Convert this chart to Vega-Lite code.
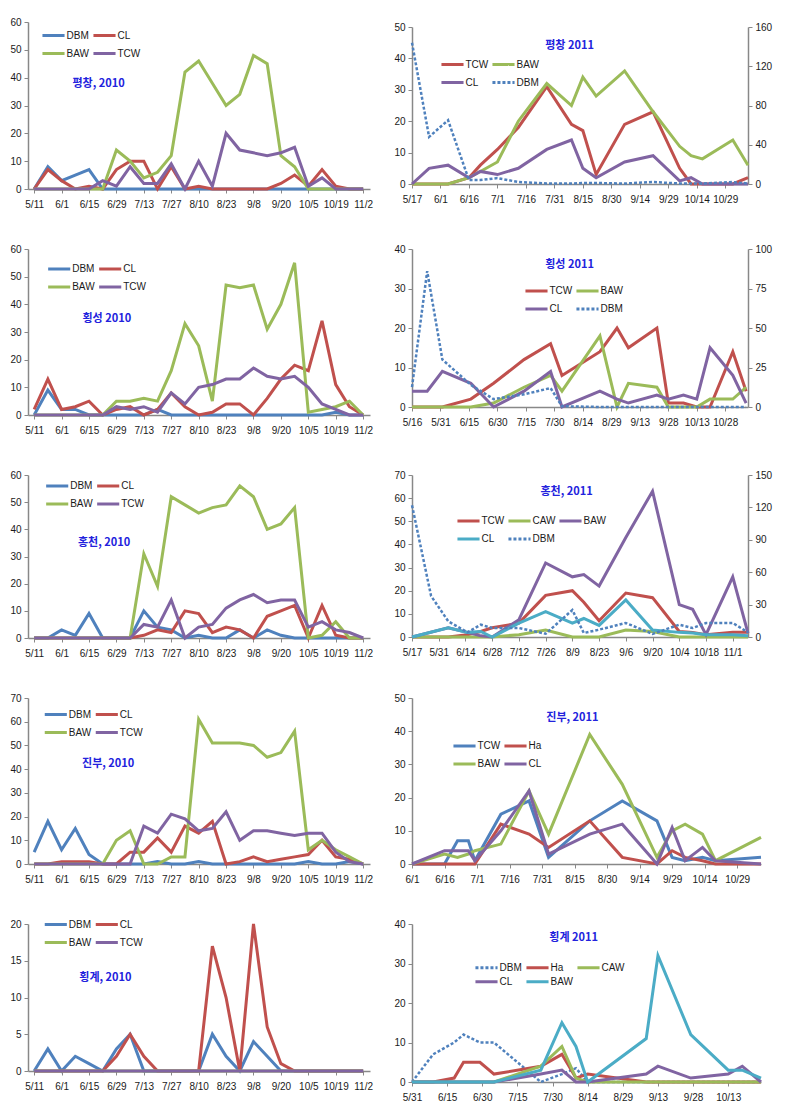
{
 "$schema": "https://vega.github.io/schema/vega-lite/v6.json",
 "padding": {"left": 9, "top": 17, "right": 5, "bottom": 5},
 "background": "white",
 "columns": 2,
 "spacing": {"row": 60, "column": 42},
 "bounds": "flush",
 "center": {"row": true},
 "resolve": {"scale": {"x": "independent", "y": "independent", "color": "independent"}, "legend": {"color": "independent"}},
 "datasets": {
  "L1": [
   {"i":0,"DBM":0,"CL":0,"BAW":0,"TCW":0},{"i":1,"DBM":8,"CL":7,"BAW":0,"TCW":0},{"i":2,"DBM":3,"CL":3,"BAW":0,"TCW":0},{"i":3,"DBM":5,"CL":0,"BAW":0,"TCW":0},{"i":4,"DBM":7,"CL":1,"BAW":0,"TCW":0},{"i":5,"DBM":0,"CL":0,"BAW":0,"TCW":3},{"i":6,"DBM":0,"CL":7,"BAW":14,"TCW":1},{"i":7,"DBM":0,"CL":10,"BAW":10,"TCW":8},{"i":8,"DBM":0,"CL":10,"BAW":4,"TCW":2},{"i":9,"DBM":0,"CL":0,"BAW":6,"TCW":2},{"i":10,"DBM":0,"CL":8,"BAW":12,"TCW":9},{"i":11,"DBM":0,"CL":0,"BAW":42,"TCW":0},{"i":12,"DBM":0,"CL":1,"BAW":46,"TCW":10},{"i":13,"DBM":0,"CL":0,"BAW":38,"TCW":1},{"i":14,"DBM":0,"CL":0,"BAW":30,"TCW":20},{"i":15,"DBM":0,"CL":0,"BAW":34,"TCW":14},{"i":16,"DBM":0,"CL":0,"BAW":48,"TCW":13},{"i":17,"DBM":0,"CL":0,"BAW":45,"TCW":12},{"i":18,"DBM":0,"CL":2,"BAW":12,"TCW":13},{"i":19,"DBM":0,"CL":5,"BAW":8,"TCW":15},{"i":20,"DBM":0,"CL":1,"BAW":0,"TCW":1},{"i":21,"DBM":0,"CL":7,"BAW":0,"TCW":4},{"i":22,"DBM":0,"CL":1,"BAW":0,"TCW":0},{"i":23,"DBM":0,"CL":0,"BAW":0,"TCW":0},{"i":24,"DBM":0,"CL":0,"BAW":0,"TCW":0}
  ],
  "L2": [
   {"i":0,"DBM":0,"CL":2,"BAW":0,"TCW":0},{"i":1,"DBM":9,"CL":13,"BAW":0,"TCW":0},{"i":2,"DBM":2,"CL":2,"BAW":0,"TCW":0},{"i":3,"DBM":2,"CL":3,"BAW":0,"TCW":0},{"i":4,"DBM":0,"CL":5,"BAW":0,"TCW":0},{"i":5,"DBM":0,"CL":0,"BAW":0,"TCW":0},{"i":6,"DBM":0,"CL":2,"BAW":5,"TCW":3},{"i":7,"DBM":0,"CL":3,"BAW":5,"TCW":2},{"i":8,"DBM":0,"CL":0,"BAW":6,"TCW":3},{"i":9,"DBM":2,"CL":2,"BAW":5,"TCW":1},{"i":10,"DBM":0,"CL":8,"BAW":16,"TCW":8},{"i":11,"DBM":0,"CL":3,"BAW":33,"TCW":4},{"i":12,"DBM":0,"CL":0,"BAW":25,"TCW":10},{"i":13,"DBM":0,"CL":1,"BAW":5,"TCW":11},{"i":14,"DBM":0,"CL":4,"BAW":47,"TCW":13},{"i":15,"DBM":0,"CL":4,"BAW":46,"TCW":13},{"i":16,"DBM":0,"CL":0,"BAW":47,"TCW":17},{"i":17,"DBM":0,"CL":6,"BAW":31,"TCW":14},{"i":18,"DBM":0,"CL":13,"BAW":40,"TCW":13},{"i":19,"DBM":0,"CL":18,"BAW":55,"TCW":14},{"i":20,"DBM":0,"CL":16,"BAW":1,"TCW":10},{"i":21,"DBM":0,"CL":34,"BAW":2,"TCW":4},{"i":22,"DBM":1,"CL":11,"BAW":3,"TCW":2},{"i":23,"DBM":0,"CL":3,"BAW":5,"TCW":0},{"i":24,"DBM":0,"CL":0,"BAW":0,"TCW":0}
  ],
  "L3": [
   {"i":0,"DBM":0,"CL":0,"BAW":0,"TCW":0},{"i":1,"DBM":0,"CL":0,"BAW":0,"TCW":0},{"i":2,"DBM":3,"CL":0,"BAW":0,"TCW":0},{"i":3,"DBM":1,"CL":0,"BAW":0,"TCW":0},{"i":4,"DBM":9,"CL":0,"BAW":0,"TCW":0},{"i":5,"DBM":0,"CL":0,"BAW":0,"TCW":0},{"i":6,"DBM":0,"CL":0,"BAW":0,"TCW":0},{"i":7,"DBM":0,"CL":0,"BAW":0,"TCW":0},{"i":8,"DBM":10,"CL":1,"BAW":31,"TCW":5},{"i":9,"DBM":4,"CL":3,"BAW":19,"TCW":4},{"i":10,"DBM":3,"CL":2,"BAW":52,"TCW":14},{"i":11,"DBM":0,"CL":10,"BAW":49,"TCW":0},{"i":12,"DBM":1,"CL":9,"BAW":46,"TCW":4},{"i":13,"DBM":0,"CL":2,"BAW":48,"TCW":5},{"i":14,"DBM":0,"CL":4,"BAW":49,"TCW":11},{"i":15,"DBM":3,"CL":3,"BAW":56,"TCW":14},{"i":16,"DBM":0,"CL":0,"BAW":52,"TCW":16},{"i":17,"DBM":3,"CL":8,"BAW":40,"TCW":13},{"i":18,"DBM":1,"CL":10,"BAW":42,"TCW":14},{"i":19,"DBM":0,"CL":12,"BAW":48,"TCW":14},{"i":20,"DBM":0,"CL":0,"BAW":0,"TCW":4},{"i":21,"DBM":0,"CL":12,"BAW":1,"TCW":6},{"i":22,"DBM":0,"CL":1,"BAW":6,"TCW":3},{"i":23,"DBM":0,"CL":0,"BAW":0,"TCW":2},{"i":24,"DBM":0,"CL":0,"BAW":0,"TCW":0}
  ],
  "L4": [
   {"i":0,"DBM":5,"CL":0,"BAW":0,"TCW":0},{"i":1,"DBM":18,"CL":0,"BAW":0,"TCW":0},{"i":2,"DBM":6,"CL":1,"BAW":0,"TCW":0},{"i":3,"DBM":15,"CL":1,"BAW":0,"TCW":0},{"i":4,"DBM":4,"CL":1,"BAW":0,"TCW":0},{"i":5,"DBM":0,"CL":0,"BAW":0,"TCW":0},{"i":6,"DBM":0,"CL":0,"BAW":10,"TCW":0},{"i":7,"DBM":0,"CL":5,"BAW":14,"TCW":0},{"i":8,"DBM":0,"CL":5,"BAW":0,"TCW":16},{"i":9,"DBM":1,"CL":11,"BAW":0,"TCW":13},{"i":10,"DBM":0,"CL":5,"BAW":3,"TCW":21},{"i":11,"DBM":0,"CL":16,"BAW":3,"TCW":19},{"i":12,"DBM":1,"CL":13,"BAW":61,"TCW":14},{"i":13,"DBM":0,"CL":18,"BAW":51,"TCW":15},{"i":14,"DBM":0,"CL":0,"BAW":51,"TCW":22},{"i":15,"DBM":0,"CL":1,"BAW":51,"TCW":10},{"i":16,"DBM":0,"CL":3,"BAW":50,"TCW":14},{"i":17,"DBM":0,"CL":1,"BAW":45,"TCW":14},{"i":18,"DBM":0,"CL":2,"BAW":47,"TCW":13},{"i":19,"DBM":0,"CL":3,"BAW":56,"TCW":12},{"i":20,"DBM":1,"CL":4,"BAW":6,"TCW":13},{"i":21,"DBM":0,"CL":10,"BAW":10,"TCW":13},{"i":22,"DBM":0,"CL":3,"BAW":6,"TCW":5},{"i":23,"DBM":1,"CL":2,"BAW":3,"TCW":1},{"i":24,"DBM":0,"CL":0,"BAW":0,"TCW":0}
  ],
  "L5": [
   {"i":0,"DBM":0,"CL":0,"BAW":0,"TCW":0},{"i":1,"DBM":3,"CL":0,"BAW":0,"TCW":0},{"i":2,"DBM":0,"CL":0,"BAW":0,"TCW":0},{"i":3,"DBM":2,"CL":0,"BAW":0,"TCW":0},{"i":4,"DBM":1,"CL":0,"BAW":0,"TCW":0},{"i":5,"DBM":0,"CL":0,"BAW":0,"TCW":0},{"i":6,"DBM":3,"CL":2,"BAW":0,"TCW":0},{"i":7,"DBM":5,"CL":5,"BAW":0,"TCW":0},{"i":8,"DBM":0,"CL":2,"BAW":0,"TCW":0},{"i":9,"DBM":0,"CL":0,"BAW":0,"TCW":0},{"i":10,"DBM":0,"CL":0,"BAW":0,"TCW":0},{"i":11,"DBM":0,"CL":0,"BAW":0,"TCW":0},{"i":12,"DBM":0,"CL":0,"BAW":0,"TCW":0},{"i":13,"DBM":5,"CL":17,"BAW":0,"TCW":0},{"i":14,"DBM":2,"CL":10,"BAW":0,"TCW":0},{"i":15,"DBM":0,"CL":0,"BAW":0,"TCW":0},{"i":16,"DBM":4,"CL":20,"BAW":0,"TCW":0},{"i":17,"DBM":2,"CL":6,"BAW":0,"TCW":0},{"i":18,"DBM":0,"CL":1,"BAW":0,"TCW":0},{"i":19,"DBM":0,"CL":0,"BAW":0,"TCW":0},{"i":20,"DBM":0,"CL":0,"BAW":0,"TCW":0},{"i":21,"DBM":0,"CL":0,"BAW":0,"TCW":0},{"i":22,"DBM":0,"CL":0,"BAW":0,"TCW":0},{"i":23,"DBM":0,"CL":0,"BAW":0,"TCW":0},{"i":24,"DBM":0,"CL":0,"BAW":0,"TCW":0}
  ],
  "R1": [
   {"d":"2011/05/17","TCW":0,"BAW":0,"CL":0,"DBM":144},{"d":"2011/05/26","TCW":0,"BAW":0,"CL":5,"DBM":48},{"d":"2011/06/05","TCW":0,"BAW":0,"CL":6,"DBM":65},{"d":"2011/06/16","TCW":2,"BAW":2,"CL":2,"DBM":4},{"d":"2011/06/22","TCW":6,"BAW":4,"CL":4,"DBM":4},{"d":"2011/07/01","TCW":11,"BAW":7,"CL":3,"DBM":6},{"d":"2011/07/12","TCW":18,"BAW":20,"CL":5,"DBM":2},{"d":"2011/07/27","TCW":31,"BAW":32,"CL":11,"DBM":0.5},{"d":"2011/08/09","TCW":19,"BAW":25,"CL":14,"DBM":0.5},{"d":"2011/08/15","TCW":17,"BAW":34,"CL":5,"DBM":1},{"d":"2011/08/22","TCW":3,"BAW":28,"CL":2,"DBM":1},{"d":"2011/09/06","TCW":19,"BAW":36,"CL":7,"DBM":0.5},{"d":"2011/09/21","TCW":23,"BAW":23,"CL":9,"DBM":2},{"d":"2011/10/05","TCW":5,"BAW":12,"CL":1,"DBM":0.5},{"d":"2011/10/11","TCW":0,"BAW":9,"CL":2,"DBM":0.5},{"d":"2011/10/17","TCW":0,"BAW":8,"CL":0,"DBM":0.5},{"d":"2011/11/02","TCW":0,"BAW":14,"CL":0,"DBM":2},{"d":"2011/11/10","TCW":2,"BAW":6,"CL":0,"DBM":0.5}
  ],
  "R2": [
   {"d":"2011/05/16","TCW":0,"BAW":0,"CL":4,"DBM":12.6},{"d":"2011/05/24","TCW":0,"BAW":0,"CL":4,"DBM":86},{"d":"2011/06/01","TCW":0,"BAW":0,"CL":9,"DBM":30},{"d":"2011/06/16","TCW":2,"BAW":0,"CL":6,"DBM":14},{"d":"2011/06/28","TCW":6,"BAW":1,"CL":0,"DBM":5},{"d":"2011/07/14","TCW":12,"BAW":5,"CL":4,"DBM":8},{"d":"2011/07/28","TCW":16,"BAW":8,"CL":9,"DBM":12},{"d":"2011/08/03","TCW":8,"BAW":4,"CL":0,"DBM":0.5},{"d":"2011/08/23","TCW":14,"BAW":18,"CL":4,"DBM":0},{"d":"2011/09/01","TCW":20,"BAW":0,"CL":2,"DBM":0},{"d":"2011/09/07","TCW":15,"BAW":6,"CL":1,"DBM":0},{"d":"2011/09/22","TCW":20,"BAW":5,"CL":3,"DBM":0},{"d":"2011/09/28","TCW":1,"BAW":0,"CL":2,"DBM":0},{"d":"2011/10/06","TCW":1,"BAW":0,"CL":3,"DBM":0},{"d":"2011/10/13","TCW":0,"BAW":0,"CL":2,"DBM":0},{"d":"2011/10/20","TCW":0,"BAW":2,"CL":15,"DBM":0},{"d":"2011/11/01","TCW":14,"BAW":2,"CL":8,"DBM":0},{"d":"2011/11/08","TCW":4,"BAW":5,"CL":1,"DBM":0}
  ],
  "R3": [
   {"d":"2011/05/17","TCW":0,"CAW":0,"BAW":0,"CL":0,"DBM":122},{"d":"2011/05/27","DBM":38},{"d":"2011/06/05","TCW":0,"CAW":0,"BAW":4,"CL":4,"DBM":14.5},{"d":"2011/06/15","TCW":1,"CAW":0,"BAW":2,"CL":2,"DBM":4.3},{"d":"2011/06/22","TCW":2.4,"CAW":0,"BAW":0.5,"CL":2.4,"DBM":11.4},{"d":"2011/06/28","TCW":4,"CAW":0,"BAW":0,"CL":0,"DBM":8.3},{"d":"2011/07/12","TCW":6,"CAW":1,"BAW":7.5,"CL":6,"DBM":8.3},{"d":"2011/07/26","TCW":18,"CAW":3,"BAW":32,"CL":11,"DBM":3},{"d":"2011/08/09","TCW":20,"CAW":0,"BAW":26,"CL":6,"DBM":25},{"d":"2011/08/15","TCW":15,"CAW":0,"BAW":27,"CL":8,"DBM":3.7},{"d":"2011/08/23","TCW":7,"CAW":0,"BAW":22,"CL":5,"DBM":6.8},{"d":"2011/09/06","TCW":19,"CAW":3,"BAW":43,"CL":16,"DBM":13},{"d":"2011/09/20","TCW":17,"CAW":2.4,"BAW":63,"CL":3,"DBM":2.8},{"d":"2011/10/04","TCW":2.4,"CAW":0,"BAW":14,"CL":2,"DBM":11.4},{"d":"2011/10/11","TCW":2,"CAW":0,"BAW":12,"CL":1.7,"DBM":8.3},{"d":"2011/10/18","TCW":1,"CAW":0,"BAW":1,"CL":1,"DBM":13},{"d":"2011/11/01","TCW":2,"CAW":0,"BAW":26,"CL":1,"DBM":13},{"d":"2011/11/09","TCW":2,"CAW":0,"BAW":1.7,"CL":0.5,"DBM":4.3}
  ],
  "R4": [
   {"d":"2011/06/01","TCW":0,"Ha":0,"BAW":0,"CL":0},{"d":"2011/06/16","TCW":0,"Ha":0,"BAW":3,"CL":4},{"d":"2011/06/22","TCW":7,"Ha":0,"BAW":2,"CL":4},{"d":"2011/06/27","TCW":7,"Ha":0,"BAW":3,"CL":4},{"d":"2011/06/30","TCW":1,"Ha":0,"BAW":4,"CL":1},{"d":"2011/07/12","TCW":15,"Ha":12,"BAW":6,"CL":10},{"d":"2011/07/25","TCW":19,"Ha":9,"BAW":22,"CL":22},{"d":"2011/08/03","TCW":2,"Ha":5,"BAW":9,"CL":3},{"d":"2011/08/22","TCW":13,"Ha":13,"BAW":39,"CL":9},{"d":"2011/09/06","TCW":19,"Ha":2,"BAW":24,"CL":12},{"d":"2011/09/22","TCW":13,"Ha":0,"BAW":2,"CL":0},{"d":"2011/09/29","TCW":2,"Ha":4,"BAW":10,"CL":11},{"d":"2011/10/05","TCW":1,"Ha":2,"BAW":12,"CL":1},{"d":"2011/10/13","TCW":2,"Ha":1,"BAW":9,"CL":5},{"d":"2011/10/19","TCW":1,"Ha":0,"BAW":1,"CL":1},{"d":"2011/11/09","TCW":2,"Ha":0,"BAW":8,"CL":0}
  ],
  "R5": [
   {"d":"2011/05/31","DBM":0,"Ha":0,"CAW":0,"CL":0,"BAW":0},{"d":"2011/06/09","DBM":7,"Ha":0,"CAW":0,"CL":0,"BAW":0},{"d":"2011/06/18","DBM":10,"Ha":1,"CAW":0,"CL":0,"BAW":0},{"d":"2011/06/22","DBM":12,"Ha":5,"CAW":0,"CL":0,"BAW":0},{"d":"2011/06/29","DBM":10,"Ha":5,"CAW":0,"CL":0,"BAW":0},{"d":"2011/07/05","DBM":10,"Ha":2,"CAW":0,"CL":0,"BAW":0},{"d":"2011/07/25","DBM":0,"Ha":4,"CAW":4,"CL":2,"BAW":3},{"d":"2011/08/03","DBM":2,"Ha":7,"CAW":9,"CL":3,"BAW":15},{"d":"2011/08/09","DBM":3.5,"Ha":1,"CAW":1,"CL":0,"BAW":9},{"d":"2011/08/14","DBM":0,"Ha":2,"CAW":0,"CL":0,"BAW":0},{"d":"2011/09/08","DBM":0,"Ha":0,"CAW":0,"CL":2,"BAW":11},{"d":"2011/09/13","DBM":0,"Ha":0,"CAW":0,"CL":4,"BAW":32},{"d":"2011/09/27","DBM":0,"Ha":0,"CAW":0,"CL":1,"BAW":12},{"d":"2011/10/13","DBM":0,"Ha":0,"CAW":0,"CL":2,"BAW":3},{"d":"2011/10/19","DBM":0,"Ha":0,"CAW":0,"CL":4,"BAW":3},{"d":"2011/10/27","DBM":0,"Ha":0,"CAW":0,"CL":0,"BAW":1}
  ]
 },
 "concat": [
  {"width": 342, "height": 167,
   "layer": [
    {"data": {"name": "L1"}, "transform": [{"fold": ["DBM","CL","BAW","TCW"], "as": ["s","v"]}],
     "mark": {"type": "line", "strokeWidth": 3},
     "encoding": {
      "x": {"field": "i", "type": "quantitative", "scale": {"domain": [-0.45, 24.5], "nice": false, "zero": false}, "axis": {"labelPadding": 6, "tickCount": 60, "labelOverlap": false, "values": [0,2,4,6,8,10,12,14,16,18,20,22,24], "labelExpr": "['5/11','6/1','6/15','6/29','7/13','7/27','8/10','8/23','9/8','9/20','10/5','10/19','11/2'][datum.value/2]"}},
      "y": {"field": "v", "type": "quantitative", "scale": {"domain": [0,60], "nice": false}, "axis": {"labelPadding": 3, "format": "d", "tickCount": 60, "labelOverlap": false, "values": [0,10,20,30,40,50,60]}},
      "color": {"field": "s", "type": "nominal", "scale": {"domain": ["DBM","CL","BAW","TCW"], "range": ["#4F81BD","#C0504D","#9BBB59","#8064A2"]}, "legend": {"legendX": 17.5, "legendY": 5.5, "columns": 2}}
     }},
    {"data": {"values": [{"t": "평창, 2010"}]}, "mark": {"type": "text", "font": "Noto Sans CJK KR", "fontWeight": "bold", "fontSize": 11, "color": "#2222DD"},
     "encoding": {"x": {"datum": 4.7, "type": "quantitative"}, "y": {"datum": 37.6, "type": "quantitative"}, "text": {"field": "t"}}}
   ]},
  {"width": 336, "height": 157,
   "layer": [
    {"layer": [
      {"data": {"name": "R1"}, "transform": [{"fold": ["TCW","BAW","CL"], "as": ["s","v"]}, {"filter": "datum.v != null"}],
       "mark": {"type": "line", "strokeWidth": 3},
       "encoding": {
        "x": {"field": "d", "type": "temporal", "scale": {"domain": [{"year":2011,"month":5,"date":17},{"year":2011,"month":11,"date":10}], "nice": false}, "axis": {"labelPadding": 6, "tickCount": 60, "labelOverlap": false, "format": "%-m/%-d", "values": [{"year":2011,"month":5,"date":17},{"year":2011,"month":6,"date":1},{"year":2011,"month":6,"date":16},{"year":2011,"month":7,"date":1},{"year":2011,"month":7,"date":16},{"year":2011,"month":7,"date":31},{"year":2011,"month":8,"date":15},{"year":2011,"month":8,"date":30},{"year":2011,"month":9,"date":14},{"year":2011,"month":9,"date":29},{"year":2011,"month":10,"date":14},{"year":2011,"month":10,"date":29}]}},
        "y": {"field": "v", "type": "quantitative", "scale": {"domain": [0,50], "nice": false}, "axis": {"labelPadding": 3, "format": "d", "tickCount": 60, "labelOverlap": false, "values": [0,10,20,30,40,50]}},
        "color": {"field": "s", "type": "nominal", "scale": {"domain": ["TCW","BAW","CL","DBM"], "range": ["#C0504D","#9BBB59","#8064A2","#4F81BD"]}, "legend": {"legendX": 32.5, "legendY": 29.5, "columns": 2, "encode": {"symbols": {"update": {"strokeDash": {"signal": "datum.value === 'DBM' ? [3,2] : [1,0]"}}}}}}
       }},
      {"data": {"values": [{"t": "평창 2011"}]}, "mark": {"type": "text", "font": "Noto Sans CJK KR", "fontWeight": "bold", "fontSize": 11, "color": "#2222DD"},
       "encoding": {"x": {"datum": {"year":2011,"month":8,"date":8}, "type": "temporal"}, "y": {"datum": 44, "type": "quantitative"}, "text": {"field": "t"}}}
     ]},
    {"data": {"name": "R1"}, "transform": [{"fold": ["DBM"], "as": ["s","v"]}, {"filter": "datum.v != null"}],
     "mark": {"type": "line", "strokeWidth": 2.5, "strokeDash": [3,2]},
     "encoding": {
      "x": {"field": "d", "type": "temporal", "scale": {"domain": [{"year":2011,"month":5,"date":17},{"year":2011,"month":11,"date":10}], "nice": false}},
      "y": {"field": "v", "type": "quantitative", "scale": {"domain": [0,160], "nice": false}, "axis": {"labelPadding": 3, "format": "d", "tickCount": 60, "labelOverlap": false, "orient": "right", "values": [0,40,80,120,160]}},
      "color": {"field": "s", "type": "nominal", "scale": {"domain": ["TCW","BAW","CL","DBM"], "range": ["#C0504D","#9BBB59","#8064A2","#4F81BD"]}, "legend": {"legendX": 32.5, "legendY": 29.5, "columns": 2, "encode": {"symbols": {"update": {"strokeDash": {"signal": "datum.value === 'DBM' ? [3,2] : [1,0]"}}}}}}
     }}
   ],
   "resolve": {"scale": {"y": "independent"}}},
  {"width": 342, "height": 166,
   "layer": [
    {"data": {"name": "L2"}, "transform": [{"fold": ["DBM","CL","BAW","TCW"], "as": ["s","v"]}],
     "mark": {"type": "line", "strokeWidth": 3},
     "encoding": {
      "x": {"field": "i", "type": "quantitative", "scale": {"domain": [-0.45, 24.5], "nice": false, "zero": false}, "axis": {"labelPadding": 6, "tickCount": 60, "labelOverlap": false, "values": [0,2,4,6,8,10,12,14,16,18,20,22,24], "labelExpr": "['5/11','6/1','6/15','6/29','7/13','7/27','8/10','8/23','9/8','9/20','10/5','10/19','11/2'][datum.value/2]"}},
      "y": {"field": "v", "type": "quantitative", "scale": {"domain": [0,60], "nice": false}, "axis": {"labelPadding": 3, "format": "d", "tickCount": 60, "labelOverlap": false, "values": [0,10,20,30,40,50,60]}},
      "color": {"field": "s", "type": "nominal", "scale": {"domain": ["DBM","CL","BAW","TCW"], "range": ["#4F81BD","#C0504D","#9BBB59","#8064A2"]}, "legend": {"legendX": 23.2, "legendY": 12, "columns": 2}}
     }},
    {"data": {"values": [{"t": "횡성 2010"}]}, "mark": {"type": "text", "font": "Noto Sans CJK KR", "fontWeight": "bold", "fontSize": 11, "color": "#2222DD"},
     "encoding": {"x": {"datum": 5.3, "type": "quantitative"}, "y": {"datum": 34.8, "type": "quantitative"}, "text": {"field": "t"}}}
   ]},
  {"width": 336, "height": 158,
   "layer": [
    {"layer": [
      {"data": {"name": "R2"}, "transform": [{"fold": ["TCW","BAW","CL"], "as": ["s","v"]}, {"filter": "datum.v != null"}],
       "mark": {"type": "line", "strokeWidth": 3},
       "encoding": {
        "x": {"field": "d", "type": "temporal", "scale": {"domain": [{"year":2011,"month":5,"date":16},{"year":2011,"month":11,"date":9}], "nice": false}, "axis": {"labelPadding": 6, "tickCount": 60, "labelOverlap": false, "format": "%-m/%-d", "values": [{"year":2011,"month":5,"date":16},{"year":2011,"month":5,"date":31},{"year":2011,"month":6,"date":15},{"year":2011,"month":6,"date":30},{"year":2011,"month":7,"date":15},{"year":2011,"month":7,"date":30},{"year":2011,"month":8,"date":14},{"year":2011,"month":8,"date":29},{"year":2011,"month":9,"date":13},{"year":2011,"month":9,"date":28},{"year":2011,"month":10,"date":13},{"year":2011,"month":10,"date":28}]}},
        "y": {"field": "v", "type": "quantitative", "scale": {"domain": [0,40], "nice": false}, "axis": {"labelPadding": 3, "format": "d", "tickCount": 60, "labelOverlap": false, "values": [0,10,20,30,40]}},
        "color": {"field": "s", "type": "nominal", "scale": {"domain": ["TCW","BAW","CL","DBM"], "range": ["#C0504D","#9BBB59","#8064A2","#4F81BD"]}, "legend": {"legendX": 116.5, "legendY": 34, "columns": 2, "encode": {"symbols": {"update": {"strokeDash": {"signal": "datum.value === 'DBM' ? [3,2] : [1,0]"}}}}}}
       }},
      {"data": {"values": [{"t": "횡성 2011"}]}, "mark": {"type": "text", "font": "Noto Sans CJK KR", "fontWeight": "bold", "fontSize": 11, "color": "#2222DD"},
       "encoding": {"x": {"datum": {"year":2011,"month":8,"date":7}, "type": "temporal"}, "y": {"datum": 36, "type": "quantitative"}, "text": {"field": "t"}}}
     ]},
    {"data": {"name": "R2"}, "transform": [{"fold": ["DBM"], "as": ["s","v"]}, {"filter": "datum.v != null"}],
     "mark": {"type": "line", "strokeWidth": 2.5, "strokeDash": [3,2]},
     "encoding": {
      "x": {"field": "d", "type": "temporal", "scale": {"domain": [{"year":2011,"month":5,"date":16},{"year":2011,"month":11,"date":9}], "nice": false}},
      "y": {"field": "v", "type": "quantitative", "scale": {"domain": [0,100], "nice": false}, "axis": {"labelPadding": 3, "format": "d", "tickCount": 60, "labelOverlap": false, "orient": "right", "values": [0,25,50,75,100]}},
      "color": {"field": "s", "type": "nominal", "scale": {"domain": ["TCW","BAW","CL","DBM"], "range": ["#C0504D","#9BBB59","#8064A2","#4F81BD"]}, "legend": {"legendX": 116.5, "legendY": 34, "columns": 2, "encode": {"symbols": {"update": {"strokeDash": {"signal": "datum.value === 'DBM' ? [3,2] : [1,0]"}}}}}}
     }}
   ],
   "resolve": {"scale": {"y": "independent"}}},
  {"width": 342, "height": 163,
   "layer": [
    {"data": {"name": "L3"}, "transform": [{"fold": ["DBM","CL","BAW","TCW"], "as": ["s","v"]}],
     "mark": {"type": "line", "strokeWidth": 3},
     "encoding": {
      "x": {"field": "i", "type": "quantitative", "scale": {"domain": [-0.45, 24.5], "nice": false, "zero": false}, "axis": {"labelPadding": 6, "tickCount": 60, "labelOverlap": false, "values": [0,2,4,6,8,10,12,14,16,18,20,22,24], "labelExpr": "['5/11','6/1','6/15','6/29','7/13','7/27','8/10','8/23','9/8','9/20','10/5','10/19','11/2'][datum.value/2]"}},
      "y": {"field": "v", "type": "quantitative", "scale": {"domain": [0,60], "nice": false}, "axis": {"labelPadding": 3, "format": "d", "tickCount": 60, "labelOverlap": false, "values": [0,10,20,30,40,50,60]}},
      "color": {"field": "s", "type": "nominal", "scale": {"domain": ["DBM","CL","BAW","TCW"], "range": ["#4F81BD","#C0504D","#9BBB59","#8064A2"]}, "legend": {"legendX": 21.2, "legendY": 3, "columns": 2}}
     }},
    {"data": {"values": [{"t": "홍천, 2010"}]}, "mark": {"type": "text", "font": "Noto Sans CJK KR", "fontWeight": "bold", "fontSize": 11, "color": "#2222DD"},
     "encoding": {"x": {"datum": 5.1, "type": "quantitative"}, "y": {"datum": 35, "type": "quantitative"}, "text": {"field": "t"}}}
   ]},
  {"width": 336, "height": 162,
   "layer": [
    {"layer": [
      {"data": {"name": "R3"}, "transform": [{"fold": ["TCW","CAW","BAW","CL"], "as": ["s","v"]}, {"filter": "datum.v != null"}],
       "mark": {"type": "line", "strokeWidth": 3},
       "encoding": {
        "x": {"field": "d", "type": "temporal", "scale": {"domain": [{"year":2011,"month":5,"date":17},{"year":2011,"month":11,"date":9}], "nice": false}, "axis": {"labelPadding": 6, "tickCount": 60, "labelOverlap": false, "format": "%-m/%-d", "values": [{"year":2011,"month":5,"date":17},{"year":2011,"month":5,"date":31},{"year":2011,"month":6,"date":14},{"year":2011,"month":6,"date":28},{"year":2011,"month":7,"date":12},{"year":2011,"month":7,"date":26},{"year":2011,"month":8,"date":9},{"year":2011,"month":8,"date":23},{"year":2011,"month":9,"date":6},{"year":2011,"month":9,"date":20},{"year":2011,"month":10,"date":4},{"year":2011,"month":10,"date":18},{"year":2011,"month":11,"date":1}]}},
        "y": {"field": "v", "type": "quantitative", "scale": {"domain": [0,70], "nice": false}, "axis": {"labelPadding": 3, "format": "d", "tickCount": 60, "labelOverlap": false, "values": [0,10,20,30,40,50,60,70]}},
        "color": {"field": "s", "type": "nominal", "scale": {"domain": ["TCW","CAW","BAW","CL","DBM"], "range": ["#C0504D","#9BBB59","#8064A2","#4BACC6","#4F81BD"]}, "legend": {"legendX": 48.5, "legendY": 38, "columns": 3, "encode": {"symbols": {"update": {"strokeDash": {"signal": "datum.value === 'DBM' ? [3,2] : [1,0]"}}}}}}
       }},
      {"data": {"values": [{"t": "홍천, 2011"}]}, "mark": {"type": "text", "font": "Noto Sans CJK KR", "fontWeight": "bold", "fontSize": 11, "color": "#2222DD"},
       "encoding": {"x": {"datum": {"year":2011,"month":8,"date":6}, "type": "temporal"}, "y": {"datum": 62.8, "type": "quantitative"}, "text": {"field": "t"}}}
     ]},
    {"data": {"name": "R3"}, "transform": [{"fold": ["DBM"], "as": ["s","v"]}, {"filter": "datum.v != null"}],
     "mark": {"type": "line", "strokeWidth": 2.5, "strokeDash": [3,2]},
     "encoding": {
      "x": {"field": "d", "type": "temporal", "scale": {"domain": [{"year":2011,"month":5,"date":17},{"year":2011,"month":11,"date":9}], "nice": false}},
      "y": {"field": "v", "type": "quantitative", "scale": {"domain": [0,150], "nice": false}, "axis": {"labelPadding": 3, "format": "d", "tickCount": 60, "labelOverlap": false, "orient": "right", "values": [0,30,60,90,120,150]}},
      "color": {"field": "s", "type": "nominal", "scale": {"domain": ["TCW","CAW","BAW","CL","DBM"], "range": ["#C0504D","#9BBB59","#8064A2","#4BACC6","#4F81BD"]}, "legend": {"legendX": 48.5, "legendY": 38, "columns": 3, "encode": {"symbols": {"update": {"strokeDash": {"signal": "datum.value === 'DBM' ? [3,2] : [1,0]"}}}}}}
     }}
   ],
   "resolve": {"scale": {"y": "independent"}}},
  {"width": 342, "height": 166,
   "layer": [
    {"data": {"name": "L4"}, "transform": [{"fold": ["DBM","CL","BAW","TCW"], "as": ["s","v"]}],
     "mark": {"type": "line", "strokeWidth": 3},
     "encoding": {
      "x": {"field": "i", "type": "quantitative", "scale": {"domain": [-0.45, 24.5], "nice": false, "zero": false}, "axis": {"labelPadding": 6, "tickCount": 60, "labelOverlap": false, "values": [0,2,4,6,8,10,12,14,16,18,20,22,24], "labelExpr": "['5/11','6/1','6/15','6/29','7/13','7/27','8/10','8/23','9/8','9/20','10/5','10/19','11/2'][datum.value/2]"}},
      "y": {"field": "v", "type": "quantitative", "scale": {"domain": [0,70], "nice": false}, "axis": {"labelPadding": 3, "format": "d", "tickCount": 60, "labelOverlap": false, "values": [0,10,20,30,40,50,60,70]}},
      "color": {"field": "s", "type": "nominal", "scale": {"domain": ["DBM","CL","BAW","TCW"], "range": ["#4F81BD","#C0504D","#9BBB59","#8064A2"]}, "legend": {"legendX": 19.8, "legendY": 8.5, "columns": 2}}
     }},
    {"data": {"values": [{"t": "진부, 2010"}]}, "mark": {"type": "text", "font": "Noto Sans CJK KR", "fontWeight": "bold", "fontSize": 11, "color": "#2222DD"},
     "encoding": {"x": {"datum": 5.4, "type": "quantitative"}, "y": {"datum": 42, "type": "quantitative"}, "text": {"field": "t"}}}
   ]},
  {"width": 349, "height": 166,
   "layer": [
    {"data": {"name": "R4"}, "transform": [{"fold": ["TCW","Ha","BAW","CL"], "as": ["s","v"]}, {"filter": "datum.v != null"}],
     "mark": {"type": "line", "strokeWidth": 3},
     "encoding": {
      "x": {"field": "d", "type": "temporal", "scale": {"domain": [{"year":2011,"month":6,"date":1},{"year":2011,"month":11,"date":9}], "nice": false}, "axis": {"labelPadding": 6, "tickCount": 60, "labelOverlap": false, "format": "%-m/%-d", "values": [{"year":2011,"month":6,"date":1},{"year":2011,"month":6,"date":16},{"year":2011,"month":7,"date":1},{"year":2011,"month":7,"date":16},{"year":2011,"month":7,"date":31},{"year":2011,"month":8,"date":15},{"year":2011,"month":8,"date":30},{"year":2011,"month":9,"date":14},{"year":2011,"month":9,"date":29},{"year":2011,"month":10,"date":14},{"year":2011,"month":10,"date":29}]}},
      "y": {"field": "v", "type": "quantitative", "scale": {"domain": [0,50], "nice": false}, "axis": {"labelPadding": 3, "format": "d", "tickCount": 60, "labelOverlap": false, "values": [0,10,20,30,40,50]}},
      "color": {"field": "s", "type": "nominal", "scale": {"domain": ["TCW","Ha","BAW","CL"], "range": ["#4F81BD","#C0504D","#9BBB59","#8064A2"]}, "legend": {"legendX": 44.5, "legendY": 40, "columns": 2}}
     }},
    {"data": {"values": [{"t": "진부, 2011"}]}, "mark": {"type": "text", "font": "Noto Sans CJK KR", "fontWeight": "bold", "fontSize": 11, "color": "#2222DD"},
     "encoding": {"x": {"datum": {"year":2011,"month":8,"date":14}, "type": "temporal"}, "y": {"datum": 44, "type": "quantitative"}, "text": {"field": "t"}}}
   ]},
  {"width": 342, "height": 147,
   "layer": [
    {"data": {"name": "L5"}, "transform": [{"fold": ["DBM","CL","BAW","TCW"], "as": ["s","v"]}],
     "mark": {"type": "line", "strokeWidth": 3},
     "encoding": {
      "x": {"field": "i", "type": "quantitative", "scale": {"domain": [-0.45, 24.5], "nice": false, "zero": false}, "axis": {"labelPadding": 6, "tickCount": 60, "labelOverlap": false, "values": [0,2,4,6,8,10,12,14,16,18,20,22,24], "labelExpr": "['5/11','6/1','6/15','6/29','7/13','7/27','8/10','8/23','9/8','9/20','10/5','10/19','11/2'][datum.value/2]"}},
      "y": {"field": "v", "type": "quantitative", "scale": {"domain": [0,20], "nice": false}, "axis": {"labelPadding": 3, "format": "d", "tickCount": 60, "labelOverlap": false, "values": [0,5,10,15,20]}},
      "color": {"field": "s", "type": "nominal", "scale": {"domain": ["DBM","CL","BAW","TCW"], "range": ["#4F81BD","#C0504D","#9BBB59","#8064A2"]}, "legend": {"legendX": 19.8, "legendY": -7.5, "columns": 2}}
     }},
    {"data": {"values": [{"t": "횡계, 2010"}]}, "mark": {"type": "text", "font": "Noto Sans CJK KR", "fontWeight": "bold", "fontSize": 11, "color": "#2222DD"},
     "encoding": {"x": {"datum": 5.2, "type": "quantitative"}, "y": {"datum": 12.6, "type": "quantitative"}, "text": {"field": "t"}}}
   ]},
  {"width": 349, "height": 158,
   "layer": [
    {"data": {"name": "R5"}, "transform": [{"fold": ["DBM"], "as": ["s","v"]}, {"filter": "datum.v != null"}],
     "mark": {"type": "line", "strokeWidth": 2.5, "strokeDash": [3,2]},
     "encoding": {
      "x": {"field": "d", "type": "temporal", "scale": {"domain": [{"year":2011,"month":5,"date":31},{"year":2011,"month":10,"date":27}], "nice": false}, "axis": {"labelPadding": 6, "tickCount": 60, "labelOverlap": false, "format": "%-m/%-d", "values": [{"year":2011,"month":5,"date":31},{"year":2011,"month":6,"date":15},{"year":2011,"month":6,"date":30},{"year":2011,"month":7,"date":15},{"year":2011,"month":7,"date":30},{"year":2011,"month":8,"date":14},{"year":2011,"month":8,"date":29},{"year":2011,"month":9,"date":13},{"year":2011,"month":9,"date":28},{"year":2011,"month":10,"date":13}]}},
      "y": {"field": "v", "type": "quantitative", "scale": {"domain": [0,40], "nice": false}, "axis": {"labelPadding": 3, "format": "d", "tickCount": 60, "labelOverlap": false, "values": [0,10,20,30,40]}},
      "color": {"field": "s", "type": "nominal", "scale": {"domain": ["DBM","Ha","CAW","CL","BAW"], "range": ["#4F81BD","#C0504D","#9BBB59","#8064A2","#4BACC6"]}, "legend": {"legendX": 66.5, "legendY": 35.7, "columns": 3, "rowPadding": 0, "encode": {"symbols": {"update": {"strokeDash": {"signal": "datum.value === 'DBM' ? [3,2] : [1,0]"}}}}}}
     }},
    {"data": {"name": "R5"}, "transform": [{"fold": ["Ha","CAW","CL","BAW"], "as": ["s","v"]}, {"filter": "datum.v != null"}],
     "mark": {"type": "line", "strokeWidth": 3},
     "encoding": {
      "x": {"field": "d", "type": "temporal", "scale": {"domain": [{"year":2011,"month":5,"date":31},{"year":2011,"month":10,"date":27}], "nice": false}},
      "y": {"field": "v", "type": "quantitative", "scale": {"domain": [0,40], "nice": false}},
      "color": {"field": "s", "type": "nominal", "scale": {"domain": ["DBM","Ha","CAW","CL","BAW"], "range": ["#4F81BD","#C0504D","#9BBB59","#8064A2","#4BACC6"]}, "legend": {"legendX": 66.5, "legendY": 35.7, "columns": 3, "rowPadding": 0, "encode": {"symbols": {"update": {"strokeDash": {"signal": "datum.value === 'DBM' ? [3,2] : [1,0]"}}}}}}
     }},
    {"data": {"values": [{"t": "횡계 2011"}]}, "mark": {"type": "text", "font": "Noto Sans CJK KR", "fontWeight": "bold", "fontSize": 11, "color": "#2222DD"},
     "encoding": {"x": {"datum": {"year":2011,"month":8,"date":8}, "type": "temporal"}, "y": {"datum": 36.5, "type": "quantitative"}, "text": {"field": "t"}}}
   ]}
 ],
 "config": {
  "view": {"stroke": null},
  "font": "Liberation Sans",
  "axis": {"grid": false, "title": null, "domainColor": "#888888", "domainWidth": 1.5, "tickColor": "#888888", "tickWidth": 1, "tickSize": 4, "labelFont": "Liberation Sans", "labelFontSize": 10, "labelColor": "#1a1a1a", "labelFlush": false, "labelOverlap": false, "labelPadding": 2},
  "legend": {"orient": "none", "direction": "horizontal", "title": null, "symbolType": "M-1.7,0H1.7", "symbolSize": 169, "symbolStrokeWidth": 3, "labelFont": "Liberation Sans", "labelFontSize": 10, "labelColor": "#1a1a1a", "labelOffset": 5, "columnPadding": -3, "rowPadding": 4, "padding": 0}
 }
}
